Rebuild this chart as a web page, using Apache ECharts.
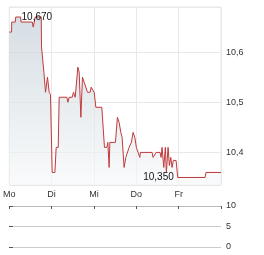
<!DOCTYPE html>
<html><head><meta charset="utf-8">
<script src="https://cdn.jsdelivr.net/npm/echarts@6/dist/echarts.min.js"></script>
<style>html,body{margin:0;padding:0;background:#fff}#c{width:264px;height:255px}</style>
</head><body><div id="c"></div>
<script>
var dayLabels = ['Mo','Di','Mi','Do','Fr',''];
var times = [0,0.054,0.059,0.142,0.153,0.267,0.278,0.542,0.566,0.590,0.613,0.755,0.762,0.818,0.856,0.903,0.943,0.974,1.014,1.078,1.108,1.156,1.179,1.361,1.384,1.415,1.486,1.517,1.557,1.620,1.651,1.691,1.729,1.769,1.809,1.847,1.910,1.934,1.965,2.005,2.045,2.186,2.248,2.304,2.328,2.358,2.375,2.507,2.554,2.594,2.634,2.665,2.712,2.752,2.790,2.830,2.884,2.925,2.965,3.002,3.042,3.083,3.097,3.373,3.396,3.443,3.467,3.561,3.585,3.608,3.649,3.686,3.710,3.750,3.781,3.814,3.844,3.875,3.939,3.979,4.623,4.646,5.0];
var prices = [10.64,10.64,10.66,10.66,10.67,10.67,10.66,10.66,10.65,10.65,10.67,10.67,10.61,10.56,10.52,10.55,10.52,10.515,10.36,10.36,10.41,10.41,10.51,10.51,10.50,10.51,10.51,10.52,10.51,10.57,10.56,10.47,10.55,10.54,10.54,10.52,10.52,10.53,10.53,10.52,10.49,10.49,10.41,10.41,10.42,10.37,10.42,10.42,10.47,10.46,10.44,10.43,10.37,10.39,10.39,10.41,10.42,10.44,10.43,10.41,10.40,10.39,10.40,10.40,10.39,10.39,10.40,10.40,10.39,10.41,10.37,10.41,10.36,10.41,10.374,10.39,10.37,10.384,10.384,10.35,10.35,10.36,10.36];
var volumeTicks = [0,5,10];
var maxPoint = [0.267, 10.67];
var minPoint = [3.979, 10.35];

var data = times.map(function(t,i){return [t, prices[i]];});
function fmt(v,d){return v.toFixed(d).replace('.',',');}
var chart = echarts.init(document.getElementById('c'), null, {renderer:'canvas'});
var lblFont = {fontFamily:'Liberation Sans, Arial, sans-serif', fontSize:9, color:'#333'};
chart.setOption({
  animation:false,
  grid:[{left:9,right:43,top:7,bottom:70,show:true,borderColor:'#e8e8e8',borderWidth:1},
        {left:9,right:43,top:206,bottom:8}],
  xAxis:[{gridIndex:0,type:'value',min:0,max:5,interval:1,
          axisLine:{show:false},axisTick:{show:false},
          splitLine:{show:true,lineStyle:{color:'#e8e8e8',width:1}},
          axisLabel:Object.assign({margin:5,showMaxLabel:false,formatter:function(v){return dayLabels[Math.round(v)]||'';}},lblFont)},
         {gridIndex:1,type:'value',min:0,max:5,interval:1,position:'top',
          axisLine:{show:true,onZero:false,lineStyle:{color:'#bbbbbb'}},
          axisTick:{show:true,inside:true,length:3,lineStyle:{color:'#555'}},
          axisLabel:{show:false},splitLine:{show:false}}],
  yAxis:[{gridIndex:0,type:'value',position:'right',min:10.335,max:10.69,splitNumber:4,
          axisLine:{show:false},axisTick:{show:false},
          splitLine:{show:true,lineStyle:{color:'#e8e8e8',width:1}},
          axisLabel:Object.assign({margin:5,showMinLabel:false,showMaxLabel:false,formatter:function(v){return fmt(v,1);}},lblFont)},
         {gridIndex:1,type:'value',position:'right',min:volumeTicks[0],max:volumeTicks[2],interval:5,
          axisLine:{show:false},
          axisTick:{show:true,length:4,lineStyle:{color:'#555'}},
          splitLine:{show:true,lineStyle:{color:'#cccccc'}},
          axisLabel:Object.assign({margin:5},lblFont)}],
  series:[{type:'line',xAxisIndex:0,yAxisIndex:0,data:data,symbol:'none',
           lineStyle:{color:'#c0393b',width:1},
           areaStyle:{origin:'start',color:new echarts.graphic.LinearGradient(0,0,0,1,[{offset:0,color:'#c4cfd7'},{offset:1,color:'#f6f8f9'}])},
           markPoint:{symbol:'circle',symbolSize:0,silent:true,
             data:[{coord:maxPoint,value:maxPoint[1],label:{position:'right',distance:1}},
                   {coord:minPoint,value:minPoint[1],label:{position:'left',distance:4}}],
             label:{show:true,fontFamily:'Liberation Sans, Arial, sans-serif',fontSize:10,color:'#111',
               formatter:function(p){return fmt(p.value,3);}}}}]
});
</script></body></html>
